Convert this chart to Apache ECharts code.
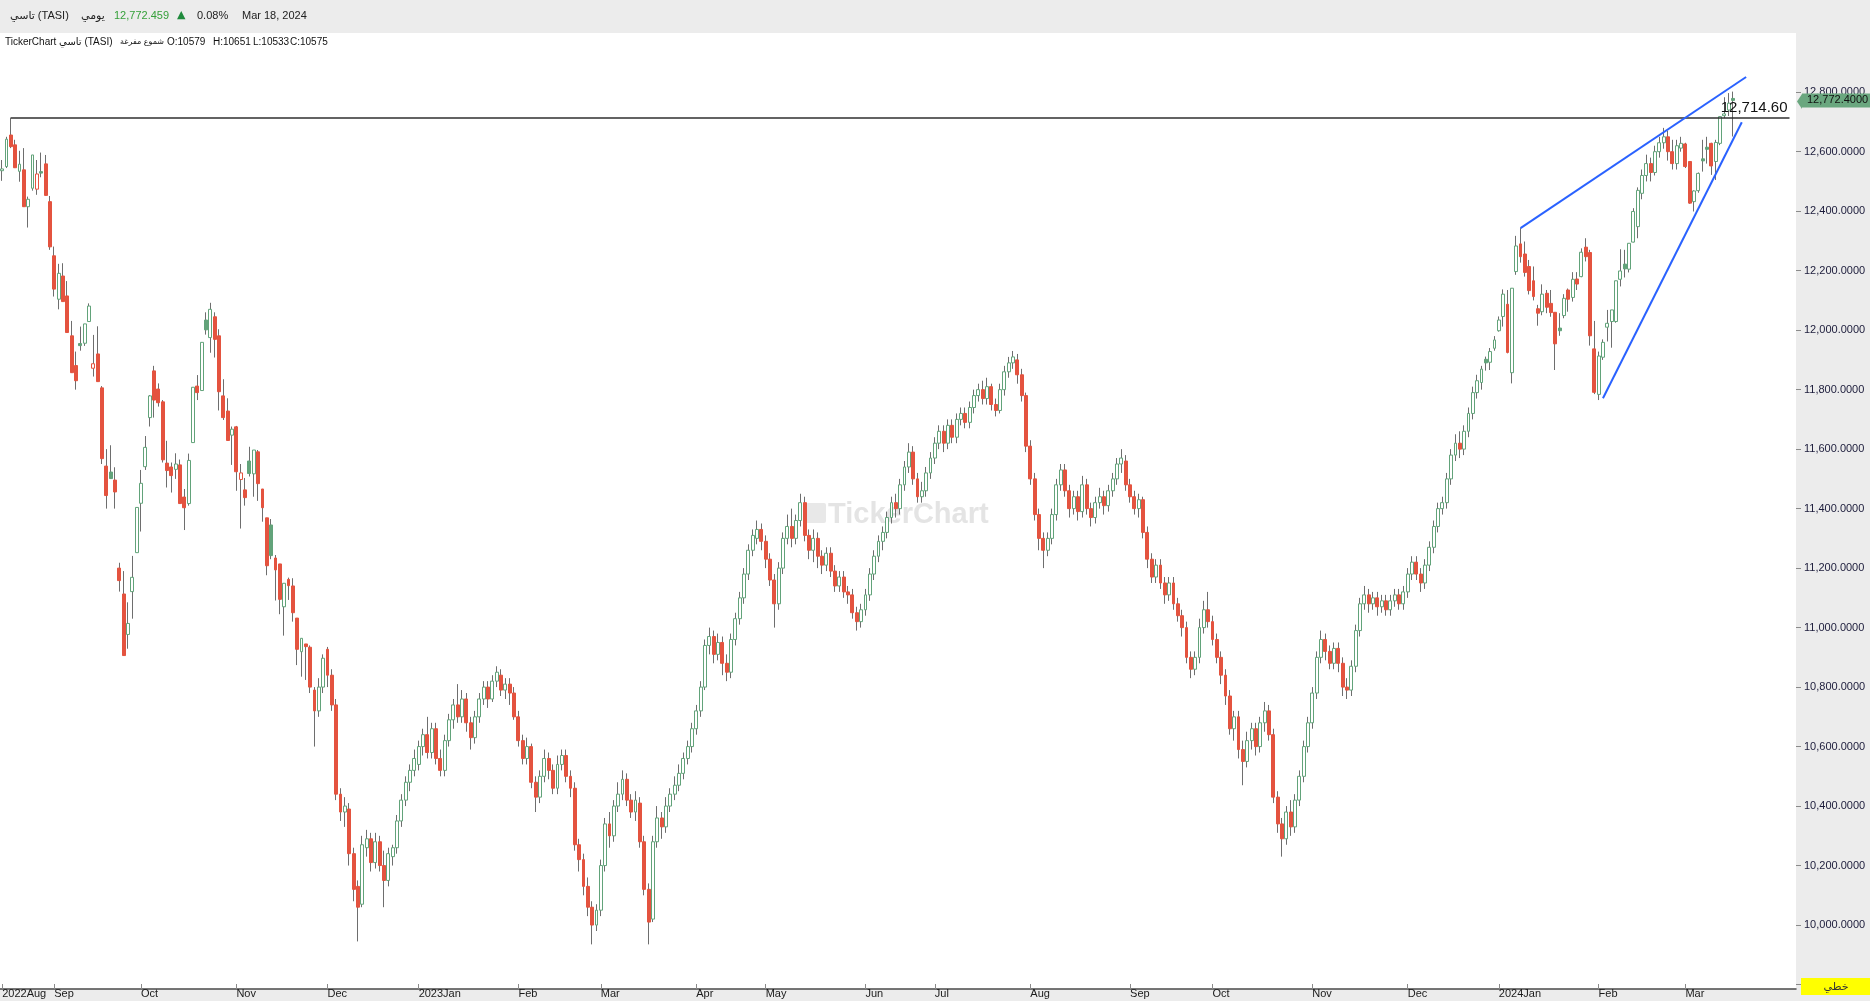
<!DOCTYPE html>
<html>
<head>
<meta charset="utf-8">
<script src="https://cdn.jsdelivr.net/npm/echarts@6/dist/echarts.min.js"></script>
<style>
html,body{margin:0;padding:0;background:#fff;}
#chart{width:1870px;height:1001px;}
</style>
</head>
<body>
<div id="chart"></div>
<script>
// ---- DATA: each candle is [open, close, low, high] ----
const monthLabels = ['2022Aug','Sep','Oct','Nov','Dec','2023Jan','Feb','Mar','Apr','May','Jun','Jul','Aug','Sep','Oct','Nov','Dec','2024Jan','Feb','Mar'];

const aug22 = [[12536,12542,12502,12572],[12550,12642,12545,12650],[12656,12617,12612,12714.6],[12623,12546,12546,12640],[12534,12558,12499,12603],[12539,12415,12415,12612],[12415,12440,12345,12449],[12477,12589,12469,12589],[12474,12525,12455,12572],[12533,12528,12514,12597],[12559,12453,12453,12589],[12432,12280,12270,12451]];
const sep22 = [[12250,12138,12113,12281],[12104,12191,12070,12223],[12182,12096,12096,12225],[12115,11992,11992,12165],[11981,11857,11857,12031],[11881,11830,11800,11928],[11955,11948,11931,12012],[11956,12021,11947,12021],[12029,12081,12029,12090],[11872,11887,11844,11984],[11920,11827,11827,12013],[11806,11568,11550,11812],[11543,11444,11400,11600],[11523,11501,11501,11613],[11496,11456,11400,11539],[11200,11158,11121,11218],[11113,10906,10906,11190],[10977,11014,10929,11085],[11121,11169,11030,11241],[11252,11404,11252,11404]];
const oct22 = [[11418,11485,11323,11530],[11541,11606,11530,11644],[11706,11779,11676,11782],[11863,11765,11706,11880],[11802,11756,11743,11821],[11759,11564,11555,11765],[11553,11528,11471,11628],[11540,11511,11454,11555],[11532,11550,11500,11586],[11547,11417,11417,11565],[11439,11403,11328,11466],[11417,11562,11410,11585],[11622,11808,11622,11808],[11812,11790,11765,11849],[11797,11959,11797,11959],[12034,12001,11985,12060],[11975,12070,11924,12092],[12045,11969,11908,12060],[11981,11793,11730,12003],[11779,11706,11698,11835],[11728,11629,11629,11771],[11647,11667,11547,11676]];
const nov22 = [[11675,11524,11460,11678],[11498,11520,11333,11550],[11463,11437,11410,11503],[11560,11518,11508,11608],[11517,11597,11440,11597],[11591,11484,11426,11597],[11466,11403,11356,11466],[11369,11208,11176,11369],[11345,11242,11230,11365],[11234,11194,11091,11244],[11214,11095,11045,11214],[11070,11149,10973,11149],[11162,11141,11093,11168],[11140,11050,11020,11166],[11032,10927,10874,11032],[10919,10964,10835,10964],[10945,10936,10824,10945],[10934,10800,10780,10940],[10790,10720,10600,10800],[10720,10800,10700,10830],[10800,10897,10780,10910]];
const dec22 = [[10927,10840,10800,10935],[10840,10740,10720,10860],[10740,10440,10420,10760],[10440,10380,10350,10460],[10380,10400,10330,10430],[10390,10240,10200,10410],[10240,10120,10080,10260],[10130,10060,9945,10150],[10070,10270,10060,10300],[10260,10290,10230,10320],[10290,10210,10180,10310],[10210,10280,10190,10310],[10280,10200,10180,10300],[10200,10150,10060,10250],[10150,10240,10130,10260],[10230,10260,10200,10270],[10260,10350,10240,10370],[10350,10420,10330,10440],[10420,10480,10400,10500],[10480,10520,10450,10540],[10520,10560,10500,10590]];
const jan23 = [[10540,10600,10520,10620],[10600,10640,10570,10660],[10640,10580,10560,10700],[10580,10660,10560,10680],[10660,10560,10540,10680],[10560,10520,10500,10590],[10520,10620,10500,10640],[10620,10690,10600,10710],[10690,10740,10660,10760],[10740,10700,10680,10810],[10700,10760,10680,10790],[10760,10680,10650,10780],[10680,10630,10590,10700],[10630,10700,10610,10720],[10700,10760,10680,10780],[10760,10800,10740,10820],[10800,10760,10730,10820],[10760,10820,10750,10840],[10820,10850,10800,10870],[10840,10790,10770,10860],[10790,10810,10760,10830],[10810,10780,10740,10830],[10780,10700,10690,10800]];
const feb23 = [[10700,10620,10600,10720],[10620,10560,10540,10640],[10560,10600,10540,10630],[10600,10480,10460,10610],[10480,10430,10380,10500],[10430,10500,10410,10520],[10500,10560,10480,10590],[10560,10520,10490,10580],[10520,10460,10440,10540],[10460,10540,10440,10570],[10540,10570,10520,10590],[10570,10500,10480,10590],[10500,10460,10430,10520],[10460,10270,10250,10480],[10270,10220,10180,10290],[10220,10130,10100,10240],[10130,10060,10030,10160],[10060,10000,9935,10080],[10000,10050,9980,10070]];
const mar23 = [[10050,10200,10030,10220],[10200,10340,10180,10360],[10340,10300,10260,10380],[10300,10400,10280,10420],[10400,10440,10380,10480],[10440,10490,10420,10520],[10490,10420,10400,10510],[10420,10380,10360,10440],[10380,10420,10350,10450],[10410,10280,10260,10430],[10280,10120,10100,10300],[10120,10010,9935,10140],[10020,10280,10010,10300],[10280,10360,10260,10400],[10360,10330,10290,10380],[10330,10400,10310,10430],[10400,10440,10380,10460],[10440,10470,10420,10500],[10470,10510,10450,10540],[10510,10560,10490,10580],[10560,10600,10540,10620],[10600,10660,10580,10680]];
const apr23 = [[10660,10720,10640,10740],[10720,10800,10700,10820],[10800,10940,10790,10960],[10940,10970,10910,11000],[10970,10910,10880,10990],[10910,10950,10890,10980],[10950,10880,10840,10970],[10880,10850,10820,10910],[10850,10960,10830,10980],[10960,11030,10940,11050],[11030,11100,11010,11120],[11100,11180,11080,11200],[11180,11260,11160,11280],[11260,11310,11240,11330],[11300,11330,11280,11360],[11330,11290,11260,11350]];
const may23 = [[11290,11230,11200,11310],[11230,11160,11140,11250],[11160,11080,11000,11180],[11080,11200,11060,11220],[11200,11300,11180,11320],[11300,11340,11280,11380],[11340,11300,11270,11400],[11300,11360,11280,11380],[11360,11420,11340,11450],[11420,11310,11290,11440],[11310,11260,11230,11330],[11260,11300,11220,11330],[11300,11240,11200,11320],[11240,11210,11180,11260],[11210,11250,11190,11270],[11250,11190,11170,11270],[11190,11140,11120,11210],[11140,11170,11120,11190],[11170,11120,11100,11190],[11120,11110,11080,11140],[11110,11050,11030,11130],[11050,11020,10990,11070],[11020,11060,11000,11080]];
const jun23 = [[11060,11110,11040,11130],[11110,11180,11090,11200],[11180,11240,11160,11260],[11240,11290,11220,11310],[11290,11320,11260,11340],[11320,11370,11300,11390],[11370,11420,11350,11440],[11420,11400,11370,11450],[11400,11480,11380,11500],[11480,11540,11460,11560],[11540,11590,11520,11620],[11590,11500,11480,11610],[11500,11440,11420,11520],[11440,11460,11420,11490],[11460,11520,11440,11540],[11520,11570,11500,11590]];
const jul23 = [[11570,11620,11550,11640],[11620,11660,11600,11680],[11660,11620,11590,11680],[11620,11680,11600,11700],[11680,11640,11620,11700],[11640,11700,11620,11720],[11700,11720,11680,11740],[11720,11690,11670,11740],[11690,11740,11670,11760],[11740,11780,11720,11800],[11780,11800,11760,11820],[11800,11770,11750,11830],[11770,11810,11750,11840],[11810,11750,11730,11820],[11750,11730,11710,11770],[11730,11800,11720,11820],[11800,11860,11780,11880],[11860,11890,11840,11910],[11890,11910,11870,11930],[11900,11850,11820,11920],[11850,11780,11760,11870],[11780,11610,11590,11790]];
const aug23 = [[11610,11500,11480,11630],[11500,11380,11360,11520],[11380,11300,11260,11400],[11300,11260,11200,11320],[11260,11300,11240,11320],[11300,11380,11280,11400],[11380,11480,11360,11500],[11480,11530,11460,11550],[11530,11460,11440,11550],[11460,11400,11370,11480],[11400,11440,11380,11460],[11440,11390,11360,11460],[11390,11480,11370,11510],[11480,11400,11380,11500],[11400,11370,11340,11420],[11370,11420,11350,11440],[11420,11440,11400,11470],[11440,11410,11380,11460],[11410,11460,11390,11480],[11460,11500,11440,11520],[11500,11550,11480,11570],[11550,11570,11520,11600],[11560,11480,11460,11580]];
const sep23 = [[11480,11440,11420,11500],[11440,11400,11380,11460],[11400,11430,11370,11450],[11430,11320,11300,11440],[11320,11230,11200,11340],[11230,11170,11150,11250],[11170,11210,11150,11230],[11210,11150,11130,11230],[11150,11110,11080,11170],[11110,11150,11090,11170],[11150,11080,11060,11170],[11080,11040,11020,11100],[11040,11000,10970,11060],[11000,10900,10880,11020],[10900,10860,10830,10920],[10860,10900,10840,10920],[10900,11000,10880,11030],[11000,11060,10980,11090],[11060,11020,11000,11120]];
const oct23 = [[11020,10960,10940,11040],[10960,10900,10880,10980],[10900,10840,10810,10920],[10840,10770,10740,10860],[10770,10660,10640,10790],[10660,10700,10620,10720],[10700,10590,10560,10720],[10590,10550,10470,10620],[10550,10620,10530,10650],[10620,10660,10590,10680],[10660,10600,10570,10680],[10600,10680,10580,10700],[10680,10720,10650,10750],[10720,10640,10620,10740],[10640,10430,10410,10660],[10430,10340,10310,10450],[10340,10290,10230,10360],[10290,10380,10270,10400],[10380,10330,10300,10420],[10330,10420,10310,10440],[10420,10500,10400,10520],[10500,10600,10480,10620],[10600,10680,10580,10700]];
const nov23 = [[10680,10780,10660,10800],[10780,10900,10760,10920],[10900,10960,10880,10990],[10960,10920,10890,10980],[10920,10880,10860,10940],[10880,10930,10860,10950],[10930,10880,10850,10950],[10880,10800,10770,10900],[10800,10790,10760,10830],[10790,10870,10770,10890],[10870,10990,10850,11010],[10990,11080,10970,11100],[11080,11110,11060,11140],[11110,11080,11050,11130],[11080,11100,11060,11120],[11100,11070,11040,11120],[11070,11090,11050,11110],[11090,11060,11040,11110],[11060,11090,11040,11110],[11090,11110,11070,11130],[11110,11080,11060,11130],[11080,11120,11060,11140]];
const dec23 = [[11120,11180,11100,11200],[11180,11220,11160,11240],[11220,11180,11160,11240],[11180,11150,11120,11200],[11150,11210,11130,11230],[11210,11270,11190,11290],[11270,11340,11250,11360],[11340,11400,11320,11420],[11400,11420,11380,11440],[11420,11500,11400,11520],[11500,11580,11480,11600],[11580,11620,11560,11650],[11620,11600,11570,11660],[11600,11660,11580,11680],[11660,11720,11640,11740],[11720,11790,11700,11810],[11790,11830,11770,11850],[11824,11869,11800,11880],[11902,11890,11864,11911],[11892,11928,11866,11940],[11939,11967,11931,11980]];
const jan24 = [[11998,12034,11995,12046],[12046,12121,12012,12137],[12087,11925,11922,12135],[11857,12141,11821,12141],[12197,12283,12186,12317],[12290,12247,12227,12343],[12256,12194,12180,12298],[12214,12133,12120,12236],[12166,12113,12100,12214],[12072,12057,12015,12085],[12062,12121,12050,12154],[12124,12077,12057,12135],[12090,12059,12045,12135],[12060,11954,11866,12060],[12007,11998,11981,12057],[12049,12107,12040,12121],[12135,12104,12062,12140],[12110,12171,12096,12195],[12172,12155,12135,12195],[12180,12262,12178,12275],[12279,12247,12231,12309],[12261,11981,11948,12270],[11937,11791,11785,12031]];
const feb24 = [[11784,11913,11765,11928],[11909,11959,11900,11969],[12010,12023,11962,12068],[12029,12068,11941,12068],[12029,12166,12025,12166],[12171,12199,12147,12272],[12222,12206,12177,12270],[12205,12292,12194,12292],[12296,12399,12295,12410],[12348,12470,12309,12480],[12460,12520,12440,12540],[12520,12560,12500,12590],[12560,12530,12500,12580],[12530,12600,12520,12620],[12600,12630,12580,12650],[12630,12650,12610,12680],[12650,12600,12570,12670],[12600,12560,12540,12640],[12560,12620,12540,12640],[12612,12628,12600,12650]];
const mar24 = [[12626,12550,12545,12630],[12567,12427,12425,12567],[12432,12468,12399,12470],[12469,12527,12462,12530],[12576,12569,12533,12640],[12615,12608,12560,12650],[12628,12552,12522,12630],[12567,12631,12505,12640],[12628,12718,12622,12718],[12721,12727,12713,12783],[12740,12763,12720,12797],[12779,12772.459,12651,12802]];

const monthData = [aug22,sep22,oct22,nov22,dec22,jan23,feb23,mar23,apr23,may23,jun23,jul23,aug23,sep23,oct23,nov23,dec23,jan24,feb24,mar24];

const yTicks = [9800,10000,10200,10400,10600,10800,11000,11200,11400,11600,11800,12000,12200,12400,12600,12800];
const resistanceLevel = 12714.60;
const lastPrice = 12772.4;
const upperTrend = [[350,12343],[402,12851]];   // [candle index, value]
const lowerTrend = [[369,11771],[401,12699]];
const rightPadCandles = 14;

// ---- build ----
const GREEN = '#62a37a', RED = '#e4533f', WICK = '#6e6e6e';
const categories = [], ohlc = [];
monthLabels.forEach((lab, m) => monthData[m].forEach((d, k) => { categories.push(lab + '|' + k + '|' + m); ohlc.push(d); }));
for (let p = 0; p < rightPadCandles; p++) categories.push('pad|' + (p + 1));

const wickData = ohlc.map(d => d.slice());
const bodyData = ohlc.map((d, i) => {
  const o = d[0], c = d[1];
  const prev = i > 0 ? ohlc[i - 1][1] : o;
  const col = (i > 0 ? c >= prev : c >= o) ? GREEN : RED;
  const fill = c > o ? '#ffffff' : col;
  return { value: [o, c, Math.min(o, c), Math.max(o, c)],
           itemStyle: { color: fill, color0: fill, borderColor: col, borderColor0: col } };
});

const isMonthStart = (idx, val) => /^[^|]+\|0\|/.test(val);

const chart = echarts.init(document.getElementById('chart'), null, { renderer: 'canvas' });
const FONT = 'Liberation Sans, DejaVu Sans, sans-serif';

chart.setOption({
  animation: false,
  backgroundColor: '#ffffff',
  grid: { left: 0, right: 74, top: 33, bottom: 12, containLabel: false, outerBoundsMode: 'none' },
  xAxis: {
    type: 'category', data: categories, boundaryGap: true,
    axisLine: { show: true, lineStyle: { color: '#4a4a4a', width: 1.5 } },
    axisTick: { show: true, inside: true, length: 5, alignWithLabel: true, interval: isMonthStart, lineStyle: { color: '#8a8a8a' } },
    axisLabel: { show: true, interval: isMonthStart, formatter: v => v.split('|')[0], align: 'left', margin: -1,
                 fontSize: 11, lineHeight: 11, color: '#1a1a1a', fontFamily: FONT },
    splitLine: { show: false }
  },
  yAxis: {
    type: 'value', position: 'right', min: 9785, max: 12999, scale: true,
    axisLine: { show: false },
    axisTick: { show: true, length: 5, customValues: yTicks, lineStyle: { color: '#8a8a8a' } },
    axisLabel: { show: true, customValues: yTicks, margin: 8, fontSize: 11, color: '#1b1b3a', fontFamily: FONT,
                 formatter: v => Number(v).toLocaleString('en-US', { minimumFractionDigits: 4, maximumFractionDigits: 4 }) },
    splitLine: { show: false }
  },
  series: [
    { type: 'candlestick', name: 'wicks', data: wickData, barWidth: 1, z: 2,
      itemStyle: { color: WICK, color0: WICK, borderColor: WICK, borderColor0: WICK, borderWidth: 1 } },
    { type: 'candlestick', name: 'TASI', data: bodyData, barWidth: 3.4, z: 3, clip: false,
      itemStyle: { borderWidth: 1 },
      markLine: {
        symbol: ['none', 'none'], silent: true, animation: false,
        data: [
          [ { coord: [2, resistanceLevel], lineStyle: { color: '#2f2f2f', width: 1.5, type: 'solid' },
              label: { show: true, position: 'insideEndTop', formatter: '12,714.60', fontSize: 15, color: '#111', fontFamily: FONT, distance: [2, 2] } },
            { coord: [412, resistanceLevel] } ],
          [ { coord: upperTrend[0], lineStyle: { color: '#2a62ff', width: 2, type: 'solid' }, label: { show: false } },
            { coord: upperTrend[1] } ],
          [ { coord: lowerTrend[0], lineStyle: { color: '#2a62ff', width: 2, type: 'solid' }, label: { show: false } },
            { coord: lowerTrend[1] } ],
          { yAxis: lastPrice, lineStyle: { color: 'rgba(0,0,0,0)', width: 1, type: 'solid' },
            label: { show: true, position: 'end', distance: 6, formatter: '12,772.4000', fontSize: 11, color: '#111',
                     fontFamily: FONT, backgroundColor: '#6aa77f', padding: [2, 5, 1, 5] } }
        ]
      }
    }
  ],
  graphic: [
    { type: 'rect', z: -10, shape: { x: 0, y: 0, width: 1870, height: 33 }, style: { fill: '#ececec' } },
    { type: 'rect', z: -10, shape: { x: 1796, y: 33, width: 74, height: 968 }, style: { fill: '#ececec' } },
    { type: 'rect', z: -10, shape: { x: 0, y: 989, width: 1796, height: 12 }, style: { fill: '#ececec' } },
    // watermark
    { type: 'rect', z: 1, shape: { x: 806, y: 503, width: 20, height: 20, r: 2 }, style: { fill: '#e8e8e8' } },
    { type: 'text', z: 1, x: 828, y: 515, style: { text: 'TickerChart', font: 'bold 29px Liberation Sans, sans-serif', fill: '#e4e4e4', verticalAlign: 'middle' } },
    // header row 1
    { type: 'text', x: 10, y: 16, style: { text: 'تاسي (TASI)', font: '11px Liberation Sans, DejaVu Sans, sans-serif', fill: '#222', verticalAlign: 'middle' } },
    { type: 'text', x: 81, y: 16, style: { text: 'يومي', font: '11px Liberation Sans, DejaVu Sans, sans-serif', fill: '#222', verticalAlign: 'middle' } },
    { type: 'text', x: 114, y: 16, style: { text: '12,772.459', font: '11px Liberation Sans, sans-serif', fill: '#35a03a', verticalAlign: 'middle' } },
    { type: 'text', x: 177, y: 15, style: { text: '▲', font: '11px DejaVu Sans, sans-serif', fill: '#1f8a3c', verticalAlign: 'middle' } },
    { type: 'text', x: 197, y: 16, style: { text: '0.08%', font: '11px Liberation Sans, sans-serif', fill: '#222', verticalAlign: 'middle' } },
    { type: 'text', x: 242, y: 16, style: { text: 'Mar 18, 2024', font: '11px Liberation Sans, sans-serif', fill: '#222', verticalAlign: 'middle' } },
    // header row 2
    { type: 'text', x: 5, y: 42, style: { text: 'TickerChart تاسي (TASI)', font: '10px Liberation Sans, DejaVu Sans, sans-serif', fill: '#111', verticalAlign: 'middle' } },
    { type: 'text', x: 120, y: 42, style: { text: 'شموع مفرغة', font: '8px DejaVu Sans, sans-serif', fill: '#111', verticalAlign: 'middle' } },
    { type: 'text', x: 167, y: 42, style: { text: 'O:10579', font: '10px Liberation Sans, sans-serif', fill: '#111', verticalAlign: 'middle' } },
    { type: 'text', x: 213, y: 42, style: { text: 'H:10651', font: '10px Liberation Sans, sans-serif', fill: '#111', verticalAlign: 'middle' } },
    { type: 'text', x: 253, y: 42, style: { text: 'L:10533', font: '10px Liberation Sans, sans-serif', fill: '#111', verticalAlign: 'middle' } },
    { type: 'text', x: 290, y: 42, style: { text: 'C:10575', font: '10px Liberation Sans, sans-serif', fill: '#111', verticalAlign: 'middle' } },
    // price tag notch
    { type: 'polygon', z: 100, shape: { points: [[1797, 101.5], [1802, 94], [1802, 109]] }, style: { fill: '#6aa77f' } },
    // yellow box
    { type: 'rect', z: 100, shape: { x: 1801, y: 978, width: 69, height: 17 }, style: { fill: '#ffff00' } },
    { type: 'text', z: 101, x: 1836, y: 987, style: { text: 'خطي', font: '11px DejaVu Sans, sans-serif', fill: '#333', align: 'center', verticalAlign: 'middle' } }
  ]
});
</script>
</body>
</html>
